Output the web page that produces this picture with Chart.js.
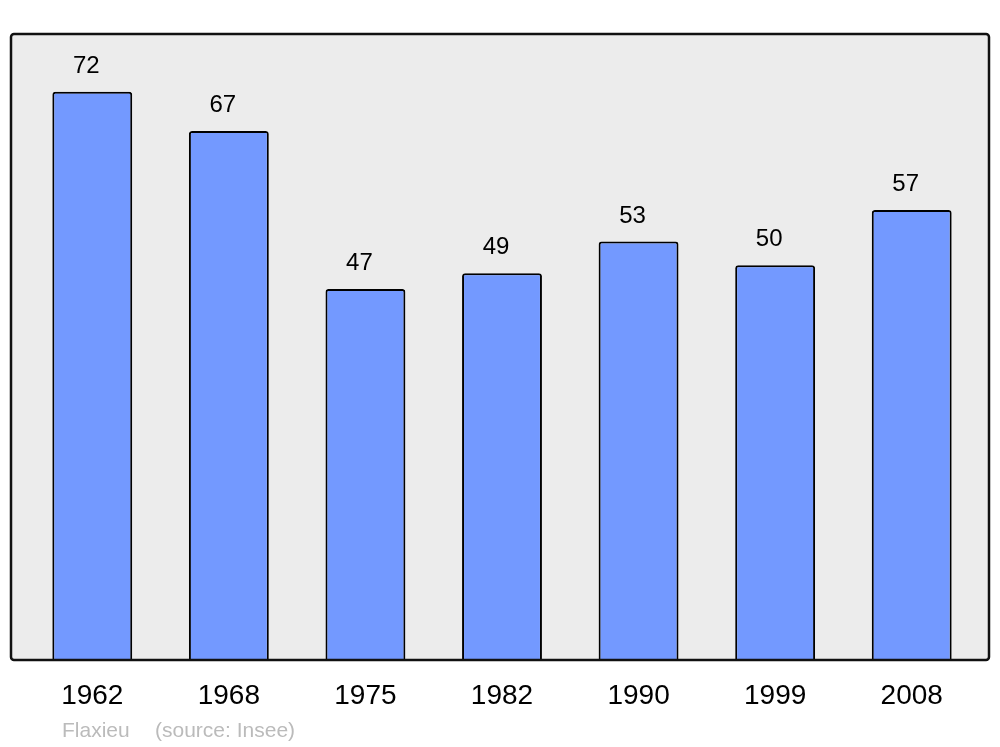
<!DOCTYPE html>
<html>
<head>
<meta charset="utf-8">
<script src="https://cdn.jsdelivr.net/npm/chart.js@4"></script>
<style>
    html, body { margin: 0; padding: 0; background: #ffffff; }
    #wrap { width: 1000px; height: 747px; }
</style>
</head>
<body>
<div id="wrap"><canvas id="popChart" width="1000" height="747"></canvas></div>
<script>
// Population data
const years = ['1962', '1968', '1975', '1982', '1990', '1999', '2008'];
const population = [72, 67, 47, 49, 53, 50, 57];
const footerName = 'Flaxieu';
const footerSource = '(source: Insee)';

const FONT = '"Liberation Sans", Arial, sans-serif';

// Grey framed panel behind the bars
const panelPlugin = {
    id: 'panel',
    beforeDraw(chart) {
        const ctx = chart.ctx;
        const a = chart.chartArea;
        const x = a.left - 13, y = a.top, w = (a.right + 9) - x, h = a.bottom - a.top;
        ctx.save();
        ctx.beginPath();
        ctx.roundRect(x, y, w, h, 3);
        ctx.fillStyle = '#ececec';
        ctx.fill();
        ctx.restore();
    },
    afterDatasetsDraw(chart) {
        const ctx = chart.ctx;
        const a = chart.chartArea;
        const x = a.left - 13, y = a.top, w = (a.right + 9) - x, h = a.bottom - a.top;
        ctx.save();
        ctx.beginPath();
        ctx.roundRect(x, y, w, h, 3);
        ctx.lineWidth = 2.5;
        ctx.strokeStyle = '#111111';
        ctx.stroke();

        // value labels above bars
        const meta = chart.getDatasetMeta(0);
        ctx.font = '24px ' + FONT;
        ctx.fillStyle = '#000000';
        ctx.textAlign = 'center';
        ctx.textBaseline = 'alphabetic';
        meta.data.forEach((bar, i) => {
            ctx.fillText(String(population[i]), bar.x - 6, bar.y - 19);
        });

        // footer
        ctx.font = '21px ' + FONT;
        ctx.fillStyle = '#bbbbbb';
        ctx.textAlign = 'left';
        ctx.fillText(footerName, 62, 737);
        ctx.fillText(footerSource, 155, 737);
        ctx.restore();
    }
};

const ctx = document.getElementById('popChart').getContext('2d');
new Chart(ctx, {
    type: 'bar',
    data: {
        labels: years,
        datasets: [{
            data: population,
            backgroundColor: '#7399ff',
            borderColor: '#000000',
            borderWidth: 2,
            borderSkipped: 'start',
            borderRadius: { topLeft: 3, topRight: 3 },
            barPercentage: 0.585,
            categoryPercentage: 1.0
        }]
    },
    options: {
        responsive: false,
        animation: false,
        layout: {
            padding: { left: 24, right: 20, top: 34, bottom: 0 }
        },
        plugins: {
            legend: { display: false },
            tooltip: { enabled: false }
        },
        scales: {
            x: {
                offset: true,
                grid: { display: false, drawTicks: false },
                border: { display: false },
                ticks: {
                    color: '#000000',
                    padding: 19,
                    font: { family: FONT, size: 28 }
                },
                afterFit(scale) {
                    scale.height = 87;
                }
            },
            y: {
                display: false,
                min: 0,
                max: 79.3
            }
        }
    },
    plugins: [panelPlugin]
});
</script>
</body>
</html>
